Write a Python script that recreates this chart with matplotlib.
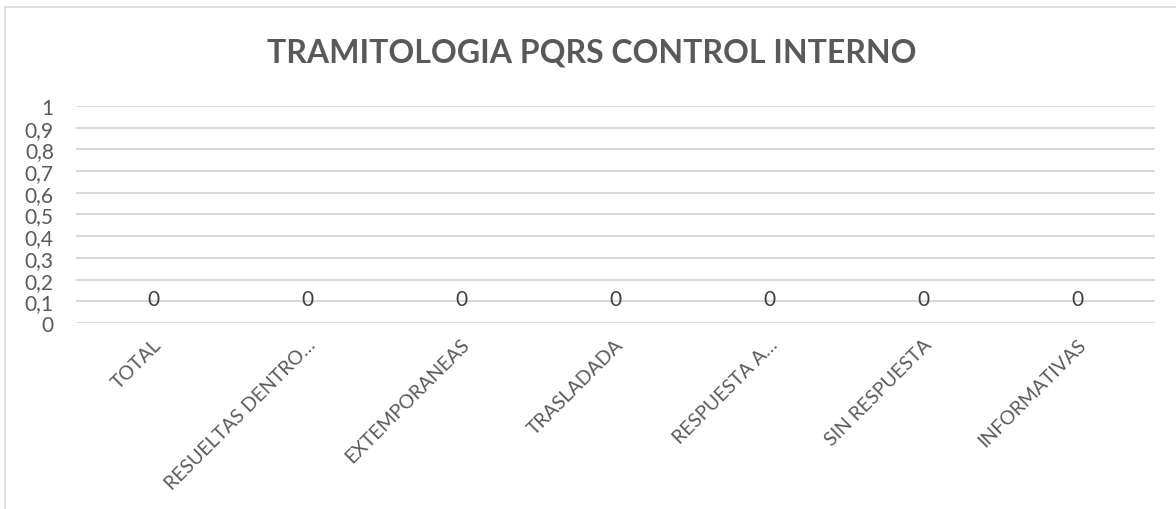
import matplotlib
matplotlib.use("Agg")
import matplotlib.pyplot as plt
from matplotlib.patches import Rectangle
from matplotlib.ticker import FuncFormatter, MultipleLocator
from matplotlib.transforms import ScaledTranslation

categories = ["TOTAL", "RESUELTAS DENTRO…", "EXTEMPORANEAS", "TRASLADADA",
              "RESPUESTA A…", "SIN RESPUESTA", "INFORMATIVAS"]
values = [0, 0, 0, 0, 0, 0, 0]

plt.rcParams['font.family'] = ['Lato', 'DejaVu Sans']
gray = '#595959'
grid = '#d9d9d9'


def fmt(v, pos):
    s = f"{v:.1f}".replace('.', ',')
    return s[:-2] if s.endswith(',0') else s


fig = plt.figure(figsize=(11.76, 5.10), dpi=100)
ax = fig.add_axes([76 / 1176, 1 - 324 / 510, (1155 - 76) / 1176, (324 - 107) / 510])

x = list(range(len(categories)))
ax.plot(x, values, linestyle='none', marker='none')
for i, v in zip(x, values):
    ax.annotate(str(v), (i, v), xytext=(0, 17), textcoords='offset points',
                ha='center', va='center', fontsize=15, color='#404040')

ax.set_xlim(-0.5, len(categories) - 0.5)
ax.set_ylim(0, 1)
ax.yaxis.set_major_locator(MultipleLocator(0.1))
ax.yaxis.set_major_formatter(FuncFormatter(fmt))
ax.grid(axis='y', color=grid, linewidth=1.5)
ax.set_axisbelow(True)
for s in ax.spines.values():
    s.set_visible(False)
ax.tick_params(length=0, labelsize=15, labelcolor=gray)
ax.tick_params(axis='y', pad=16)
ax.tick_params(axis='x', pad=16, labelsize=14)
ax.set_xticks(x)
ax.set_xticklabels(categories, rotation=45, ha='right', va='baseline',
                   rotation_mode='anchor')
shift = ScaledTranslation(0.09, 0, fig.dpi_scale_trans)
for lab in ax.get_xticklabels():
    lab.set_transform(lab.get_transform() + shift)

fig.text(592 / 1176, 1 - 53 / 510, "TRAMITOLOGIA PQRS CONTROL INTERNO",
         ha='center', va='center', fontsize=23, fontweight='bold', color=gray)

fig.patches.append(Rectangle((5 / 1176, -0.05), 1.2, 1 - 8 / 510 + 0.05,
                             transform=fig.transFigure, fill=False,
                             edgecolor=grid, linewidth=1.2))

fig.savefig('out.png', dpi=100)
